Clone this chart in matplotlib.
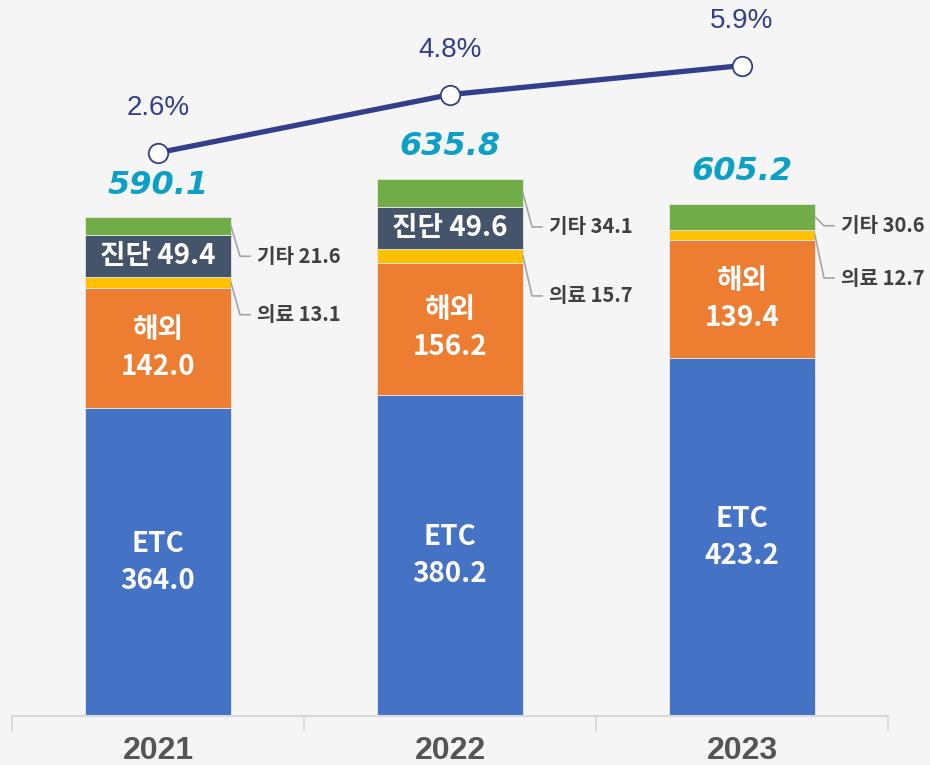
import numpy as np
import matplotlib.pyplot as plt
from matplotlib.transforms import IdentityTransform

plt.rcParams['font.family'] = ['Noto Sans CJK KR', 'DejaVu Sans']

# Data
years = ['2021', '2022', '2023']
etc = [364.0, 380.2, 423.2]
overseas = [142.0, 156.2, 139.4]
medical = [13.1, 15.7, 12.7]
diagnosis = [49.4, 49.6, 0.0]
other = [21.6, 34.1, 30.6]
totals = [590.1, 635.8, 605.2]
growth = [2.6, 4.8, 5.9]

# Styles
bg = '#F5F5F5'
c_etc = '#4472C4'
c_over = '#ED7D31'
c_med = '#FFC000'
c_diag = '#44546A'
c_other = '#70AD47'
navy = '#333F8A'
cyan = '#0CA0C8'
gray_txt = '#404040'
leader = '#A6A6A6'

fig = plt.figure(figsize=(9.3, 7.65), dpi=100, facecolor=bg)
ax = fig.add_axes([12 / 930, 49 / 765, 876 / 930, 716 / 765])
ax.set_facecolor(bg)
ax.set_xlim(-0.5, 2.5)
ax.set_ylim(0, 847)

x = np.arange(len(years))
w = 0.5

segments = [('ETC', etc, c_etc), ('해외', overseas, c_over), ('의료', medical, c_med),
            ('진단', diagnosis, c_diag), ('기타', other, c_other)]
bottom = np.zeros(len(years))
mids = {}
for name, vals, col in segments:
    vals = np.array(vals)
    ax.bar(x, vals, w, bottom=bottom, color=col, edgecolor='#E8E8E8', linewidth=0.6, zorder=2)
    mids[name] = bottom + vals / 2
    bottom = bottom + vals
tops = bottom

# inside labels
for i in range(len(years)):
    ax.text(x[i], mids['ETC'][i], f'ETC\n{etc[i]:.1f}', color='white', ha='center', va='center',
            fontsize=20, fontweight='bold', linespacing=1.4, zorder=3)
    ax.text(x[i], mids['해외'][i], f'해외\n{overseas[i]:.1f}', color='white', ha='center', va='center',
            fontsize=20, fontweight='bold', linespacing=1.4, zorder=3)
    if diagnosis[i] > 0:
        ax.text(x[i], mids['진단'][i], f'진단 {diagnosis[i]:.1f}', color='white', ha='center',
                va='center', fontsize=20, fontweight='bold', zorder=3)
    ax.annotate(f'{totals[i]:.1f}', xy=(x[i], tops[i]), xytext=(0, 32), textcoords='offset pixels',
                ha='center', va='center', color=cyan, fontsize=23, fontweight='heavy',
                style='italic', family='DejaVu Sans', zorder=3)

# outside labels with leader lines (label drop in pixels)
drops = {'기타': [30, 34, 9], '의료': [32, 40, 43]}
fig.canvas.draw()
for name, vals in [('기타', other), ('의료', medical)]:
    for i in range(len(years)):
        xr = x[i] + w / 2
        px, py = ax.transData.transform((xr, mids[name][i]))
        ly = py - drops[name][i]
        ax.plot([px, px + 9, px + 19], [py, ly, ly], color=leader, lw=1.2,
                transform=IdentityTransform(), zorder=3, clip_on=False)
        ax.annotate(f'{name} {vals[i]:.1f}', xy=(xr, mids[name][i]), xytext=(26, -drops[name][i]),
                    textcoords='offset pixels', ha='left', va='center', color=gray_txt,
                    fontsize=14.5, fontweight='bold')

# axis
for s in ['top', 'left', 'right']:
    ax.spines[s].set_visible(False)
ax.spines['bottom'].set_color('#D9D9D9')
ax.spines['bottom'].set_linewidth(1.5)
ax.set_yticks([])
ax.set_xticks([-0.5, 0.5, 1.5, 2.5])
ax.set_xticklabels([])
ax.tick_params(axis='x', length=11, width=1.2, color='#D9D9D9')
for i, yr in enumerate(years):
    ax.annotate(yr, xy=(x[i], 0), xytext=(0, -35), textcoords='offset pixels', ha='center',
                va='center', color='#555555', fontsize=23, fontweight='bold',
                family='Liberation Sans', annotation_clip=False)

# growth line
ax2 = ax.twinx()
ax2.set_ylim(-18.71, 8.38)
ax2.axis('off')
ax2.plot(x, growth, color=navy, lw=3.8, marker='o', ms=14, mfc='white', mec=navy, mew=1.3,
         zorder=5)
for i in range(len(years)):
    ax2.annotate(f'{growth[i]:.1f}%', xy=(x[i], growth[i]), xytext=(0, 45), textcoords='offset pixels',
                 ha='center', va='center', color=navy, fontsize=20, family='Liberation Sans')

fig.savefig('out.png', dpi=100, facecolor=bg)
